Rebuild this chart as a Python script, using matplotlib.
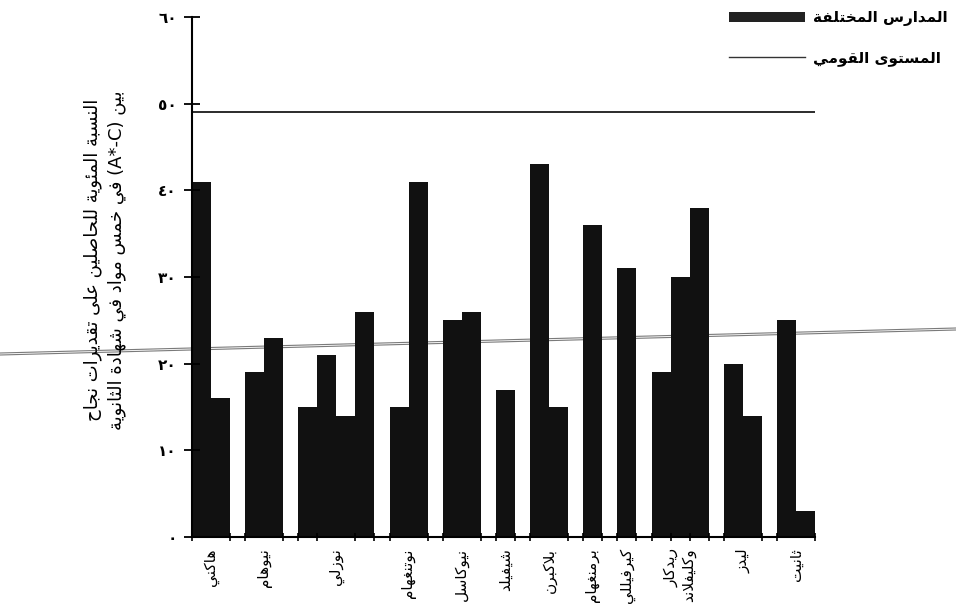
import matplotlib
matplotlib.use("Agg")
import matplotlib.pyplot as plt
from matplotlib.patches import Patch
from matplotlib.lines import Line2D

# data
schools = ["هاكني", "نيوهام", "نوزلي", "نوتنغهام", "نيوكاسل", "شيفيلد", "بلاكبرن",
           "برمنغهام", "كيرفيللي", "ريدكار\nوكليفلاند", "ليدز", "ثانيت"]
values = [[41, 16], [19, 23], [15, 21, 14, 26], [15, 41], [25, 26], [17], [43, 15],
          [36], [31], [19, 30, 38], [20, 14], [25, 3]]
national = 49
yticks = [0, 10, 20, 30, 40, 50, 60]
legend_labels = ["المدارس المختلفة", "المستوى القومي"]
ylabel = "النسبة المئوية للحاصلين على تقديرات نجاح\nبين (A*-C) في خمس مواد في شهادة الثانوية"

# --- minimal arabic shaping (matplotlib does no shaping / bidi) ---
DUAL = {'ب': 0xFE8F, 'ت': 0xFE95, 'ث': 0xFE99, 'ج': 0xFE9D, 'ح': 0xFEA1, 'خ': 0xFEA5,
        'س': 0xFEB1, 'ش': 0xFEB5, 'ص': 0xFEB9, 'ض': 0xFEBD, 'ط': 0xFEC1, 'ظ': 0xFEC5,
        'ع': 0xFEC9, 'غ': 0xFECD, 'ف': 0xFED1, 'ق': 0xFED5, 'ك': 0xFED9, 'ل': 0xFEDD,
        'م': 0xFEE1, 'ن': 0xFEE5, 'ه': 0xFEE9, 'ي': 0xFEF1, 'ئ': 0xFE89}
RIGHT = {'ا': 0xFE8D, 'أ': 0xFE83, 'إ': 0xFE87, 'آ': 0xFE81, 'ؤ': 0xFE85, 'د': 0xFEA9,
         'ذ': 0xFEAB, 'ر': 0xFEAD, 'ز': 0xFEAF, 'و': 0xFEED, 'ى': 0xFEEF, 'ة': 0xFE93}
LAMALEF = {'ا': 0xFEFB, 'أ': 0xFEF7, 'إ': 0xFEF9, 'آ': 0xFEF5}


def shape_word(w):
    out = []
    i = 0
    while i < len(w):
        c = w[i]
        jp = i > 0 and w[i - 1] in DUAL
        if c == 'ل' and i + 1 < len(w) and w[i + 1] in LAMALEF:
            out.append(chr(LAMALEF[w[i + 1]] + (1 if jp else 0)))
            i += 2
            continue
        nx = w[i + 1] if i + 1 < len(w) else ''
        jn = nx in DUAL or nx in RIGHT
        if c in DUAL:
            s = DUAL[c]
            code = s + 3 if (jp and jn) else s + 1 if jp else s + 2 if jn else s
        elif c in RIGHT:
            code = RIGHT[c] + (1 if jp else 0)
        else:
            code = ord(c)
        out.append(chr(code))
        i += 1
    return ''.join(out)


def ar(text):
    lines = []
    for line in text.split('\n'):
        toks = []
        for t in line.split(' '):
            if any('\u0600' <= ch <= '\u06ff' for ch in t):
                toks.append(shape_word(t)[::-1])
            else:
                toks.append(t)
        lines.append(' '.join(toks[::-1]))
    return '\n'.join(lines)


def ar_digits(v):
    return str(v).translate(str.maketrans('0123456789', '٠١٢٣٤٥٦٧٨٩'))


plt.rcParams['font.family'] = ['DejaVu Sans']

fig = plt.figure(figsize=(9.56, 6.13), dpi=100)
ax = fig.add_axes([192 / 956, 1 - 537 / 613, (815 - 192) / 956, (537 - 17) / 613])
ax.patch.set_visible(False)

gap = 0.8
x = 0.0
centers = []
edges = [0.0]
for vals in values:
    start = x
    for v in vals:
        ax.bar(x + 0.5, v, width=1.0, color='#111111', linewidth=0)
        x += 1
        edges.append(x)
    centers.append((start + x) / 2)
    x += gap
    edges.append(x)
total = x - gap
edges = [e for e in edges if e <= total + 1e-9]

ax.hlines(national, 0, total, color='#1a1a1a', linewidth=1.3)

ax.set_xlim(0, total)
ax.set_ylim(0, 60)
for s in ['top', 'right']:
    ax.spines[s].set_visible(False)
ax.spines['left'].set_linewidth(1.5)
ax.spines['bottom'].set_linewidth(1.5)

ax.set_yticks(yticks)
ax.set_yticklabels([ar_digits(v) for v in yticks], fontsize=11, fontweight='bold')
ax.tick_params(axis='y', direction='inout', length=12, width=1.3, pad=5)

ax.set_xticks(centers)
ax.set_xticklabels([ar(s) for s in schools], rotation=90, fontsize=11,
                   va='top', ha='center', multialignment='right')
ax.tick_params(axis='x', which='major', length=0, pad=8)
ax.set_xticks(edges, minor=True)
ax.tick_params(axis='x', which='minor', direction='inout', length=6, width=1.2)

fig.text(105 / 956, 1 - 260 / 613, ar(ylabel), rotation=90, ha='center', va='center',
         fontsize=13, multialignment='center', linespacing=1.4)

handles = [Patch(facecolor='#222222', edgecolor='none'),
           Line2D([0], [0], color='#333333', linewidth=1.0)]
fig.legend(handles, [ar(l) for l in legend_labels], loc='upper right',
           bbox_to_anchor=(1.0, 0.997), frameon=False, handlelength=5.0,
           handletextpad=0.5, labelspacing=1.55, borderaxespad=0.15,
           prop={'size': 11, 'weight': 'bold'})

# crease line across the scanned page
for off in (0, 2):
    fig.add_artist(Line2D([0, 1], [1 - (353 + off) / 613, 1 - (328 + off) / 613],
                          transform=fig.transFigure, color='#7a7a7a', linewidth=0.8,
                          zorder=-1))

fig.savefig("out.png", dpi=100)
